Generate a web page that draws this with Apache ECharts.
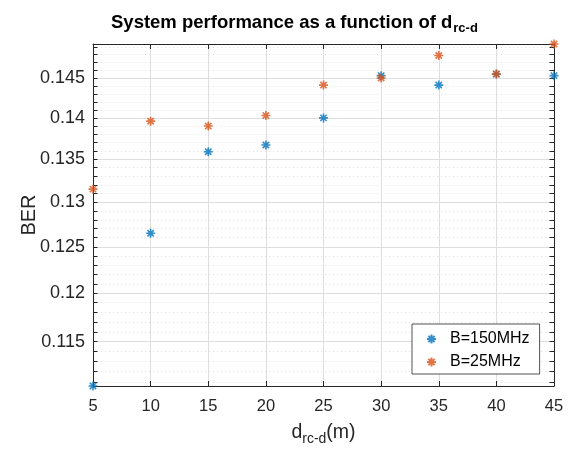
<!DOCTYPE html>
<html>
<head>
<meta charset="utf-8">
<script src="https://cdn.jsdelivr.net/npm/echarts@6/dist/echarts.min.js"></script>
<style>
  html, body { margin: 0; padding: 0; background: #fff; }
  #chart { width: 574px; height: 451px; }
</style>
</head>
<body>
<div id="chart"></div>
<script>
// distance d_rc-d (m)
const distances = [5, 10, 15, 20, 25, 30, 35, 40, 45];
// BER per bandwidth
const berB150 = [0.1106, 0.1265, 0.1359, 0.1367, 0.1400, 0.1453, 0.1441, 0.1455, 0.1453];
const berB25 = [0.1315, 0.1396, 0.1390, 0.1403, 0.1441, 0.1450, 0.1479, 0.1455, 0.1494];
// axis ticks
const xTicks = [5, 10, 15, 20, 25, 30, 35, 40, 45];
const yMajorTicks = [0.115, 0.12, 0.125, 0.13, 0.135, 0.14, 0.145];
const yMin = 0.1106;
const yMax = 0.1494;

const FONT = "Liberation Sans, Arial, Helvetica, sans-serif";
const AX = "#262626";
const BLUE = "#0072BD";
const ORANGE = "#D95319";
const STAR = "path://M0,-1L0,1M-1,0L1,0M-0.7,-0.7L0.7,0.7M-0.7,0.7L0.7,-0.7";

// minor ticks every 0.001
let yMinorTicks = [];
for (let i = 111; i <= 149; i++) {
  if (i % 5 !== 0) yMinorTicks.push(+(i / 1000).toFixed(3));
}
const yAllTicks = yMinorTicks.concat(yMajorTicks);

const chart = echarts.init(document.getElementById("chart"));

function yAxisBase(extra) {
  return Object.assign({
    type: "log",
    logBase: 10,
    min: yMin,
    max: yMax,
    position: "left",
    axisLine: { show: false },
    axisTick: { show: false },
    axisLabel: { show: false },
    splitLine: { show: false },
    minorTick: { show: false },
    minorSplitLine: { show: false }
  }, extra);
}

const option = {
  animation: false,
  backgroundColor: "#fff",
  textStyle: { fontFamily: FONT },
  title: {
    left: 106,
    top: 6,
    text: "{a|System performance as a function of d}{s|rc-d}",
    textStyle: {
      rich: {
        a: { fontFamily: FONT, fontSize: 18.5, fontWeight: "bold", color: "#000" },
        s: { fontFamily: FONT, fontSize: 13, fontWeight: "bold", color: "#000", padding: [11, 0, 0, 1] }
      }
    }
  },
  legend: {
    orient: "vertical",
    left: 412,
    top: 324,
    padding: [7, 10, 4, 14],
    itemGap: 7,
    itemWidth: 9,
    itemHeight: 9,
    backgroundColor: "#fff",
    borderColor: AX,
    borderWidth: 0.8,
    textStyle: { fontFamily: FONT, fontSize: 16, color: "#000", padding: [0, 0, 0, 9] },
    data: ["B=150MHz", "B=25MHz"]
  },
  grid: { left: 93, right: 20, top: 44, bottom: 64, containLabel: false },
  xAxis: [
    {
      type: "value",
      position: "bottom",
      min: 5,
      max: 45,
      interval: 5,
      name: "{a|d}{s|rc-d}{a|(m)}",
      nameLocation: "middle",
      nameMoveOverlap: false,
      nameGap: 34,
      nameTextStyle: {
        rich: {
          a: { fontFamily: FONT, fontSize: 19.5, color: AX },
          s: { fontFamily: FONT, fontSize: 14, color: AX, padding: [12, 0, 0, 0] }
        }
      },
      axisLine: { lineStyle: { color: AX, width: 1 } },
      axisTick: { inside: true, length: 5, lineStyle: { color: AX } },
      axisLabel: { fontFamily: FONT, fontSize: 16.5, color: AX, margin: 12 },
      splitLine: { show: true, lineStyle: { color: "#dedede", width: 1 } }
    },
    {
      type: "value",
      position: "top",
      min: 5,
      max: 45,
      interval: 5,
      axisLine: { lineStyle: { color: AX, width: 1 } },
      axisTick: { inside: true, length: 5, lineStyle: { color: AX } },
      axisLabel: { show: false },
      splitLine: { show: false }
    }
  ],
  yAxis: [
    // left axis: all ticks + labels
    yAxisBase({
      name: "BER",
      nameLocation: "middle",
      nameMoveOverlap: false,
      nameGap: 54,
      nameRotate: 90,
      nameTextStyle: { fontFamily: FONT, fontSize: 20, color: AX },
      axisLine: { show: true, lineStyle: { color: AX, width: 1 } },
      axisTick: { show: true, inside: true, length: 4.5, customValues: yAllTicks, lineStyle: { color: AX } },
      axisLabel: {
        show: true,
        customValues: yMajorTicks,
        fontFamily: FONT,
        fontSize: 18,
        color: AX,
        margin: 8,
        formatter: v => String(+(+v).toFixed(3))
      }
    }),
    // major grid
    yAxisBase({
      axisTick: { show: false, customValues: yMajorTicks },
      splitLine: { show: true, lineStyle: { color: "#dedede", width: 1 } }
    }),
    // minor grid
    yAxisBase({
      axisTick: { show: false, customValues: yMinorTicks },
      splitLine: { show: true, lineStyle: { color: "#e2e2e2", width: 1, type: [1, 3] } }
    }),
    // right box side
    yAxisBase({
      position: "right",
      axisLine: { show: true, lineStyle: { color: AX, width: 1 } },
      axisTick: { show: true, inside: true, length: 4.5, customValues: yAllTicks, lineStyle: { color: AX } }
    })
  ],
  series: [
    {
      name: "B=150MHz",
      type: "scatter",
      xAxisIndex: 0,
      yAxisIndex: 0,
      symbol: STAR,
      symbolSize: 9,
      itemStyle: { color: "rgba(0,0,0,0)", borderColor: BLUE, borderWidth: 1.6 },
      data: distances.map((d, i) => [d, berB150[i]]),
      z: 5
    },
    {
      name: "B=25MHz",
      type: "scatter",
      xAxisIndex: 0,
      yAxisIndex: 0,
      symbol: STAR,
      symbolSize: 9,
      itemStyle: { color: "rgba(0,0,0,0)", borderColor: ORANGE, borderWidth: 1.6 },
      data: distances.map((d, i) => [d, berB25[i]]),
      z: 5
    }
  ]
};

chart.setOption(option);
</script>
</body>
</html>
